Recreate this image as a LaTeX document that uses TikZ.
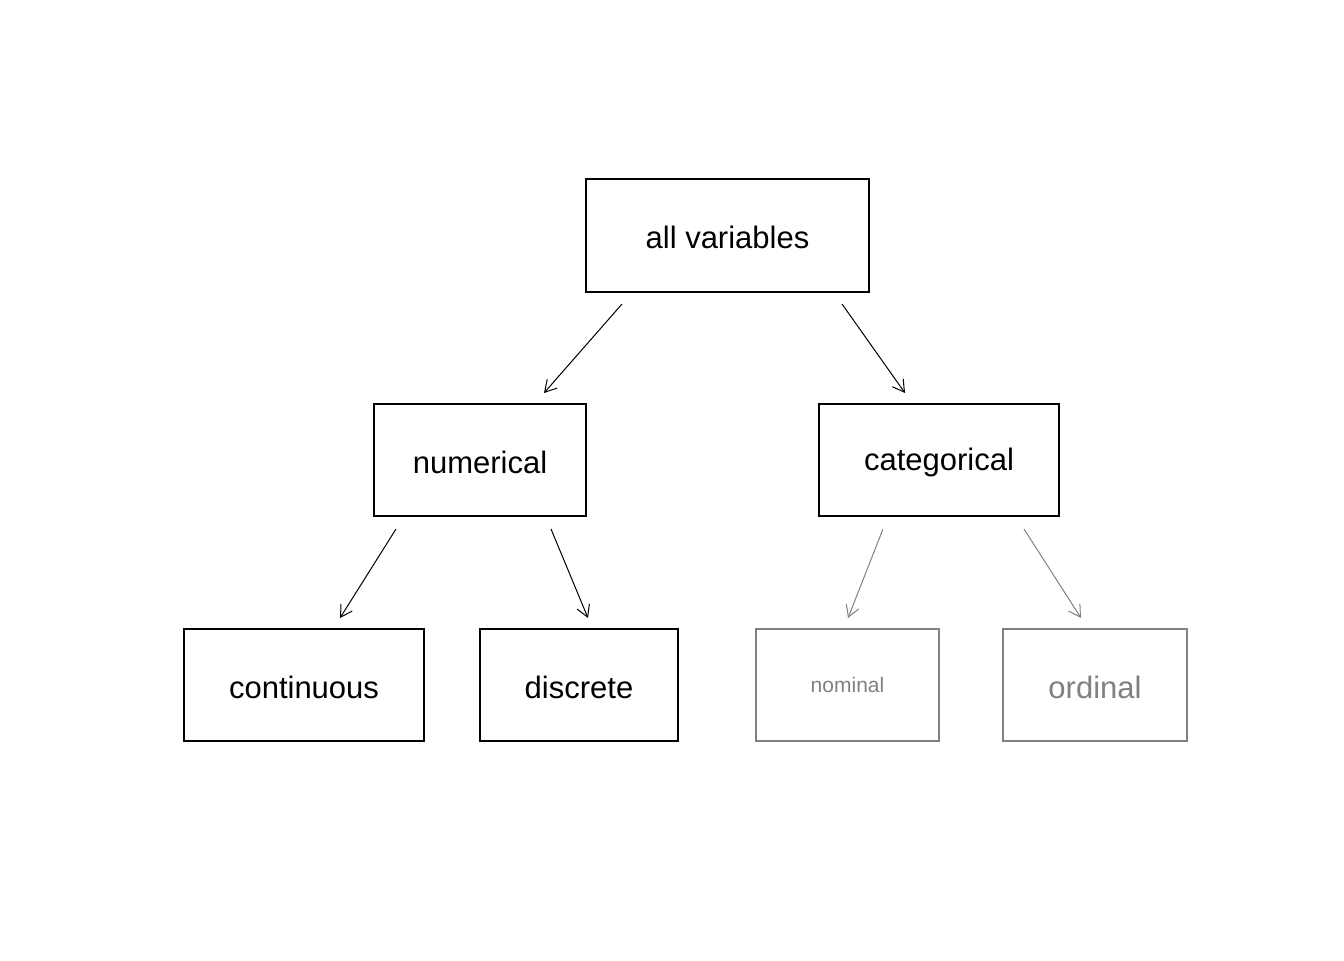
\documentclass[tikz,border=0pt]{standalone}
\usepackage{fontspec}
\setmainfont{Liberation Sans}
\usetikzlibrary{arrows.meta}
\newcommand{\lowtxt}[1]{\raisebox{-1.6pt}[\height][\depth]{#1}}
\begin{document}
\begin{tikzpicture}[x=0.75pt,y=-0.75pt,
  box/.style={draw, line width=1.5pt, inner sep=0pt, minimum height=84pt, font=\fontsize{23.25}{28}\selectfont},
  graybox/.style={box, draw=gray, text=gray},
  conn/.style={line width=0.75pt, -{Straight Barb[length=8.6pt,width=10pt]}},
  grayconn/.style={conn, draw=gray}]
\useasboundingbox (0,0) rectangle (1344,960);
\node[box, minimum width=212.25pt, minimum height=84.75pt] (all) at (727.5,235.5) {\lowtxt{all variables}};
\node[box, minimum width=159pt] (num) at (480,460) {\lowtxt{numerical}};
\node[box, minimum width=180pt] (cat) at (939,460) {\lowtxt{categorical}};
\node[box, minimum width=180pt] (cont) at (304,685) {\lowtxt{continuous}};
\node[box, minimum width=148.5pt] (disc) at (579,685) {\lowtxt{discrete}};
\node[graybox, minimum width=137.25pt, font=\fontsize{15.75}{19}\selectfont] (nom) at (847.5,685) {nominal};
\node[graybox, minimum width=138pt] (ord) at (1095,685) {\lowtxt{ordinal}};
\coordinate (a1) at (622,304); \coordinate (b1) at (544,393);
\coordinate (a2) at (842,304); \coordinate (b2) at (905,393);
\coordinate (a3) at (396,529); \coordinate (b3) at (340,618);
\coordinate (a4) at (551,529); \coordinate (b4) at (588,618);
\coordinate (a5) at (883,529); \coordinate (b5) at (848,618);
\coordinate (a6) at (1024,529); \coordinate (b6) at (1081,618);
\draw[conn] (a1) -- (b1);
\draw[conn] (a2) -- (b2);
\draw[conn] (a3) -- (b3);
\draw[conn] (a4) -- (b4);
\draw[grayconn] (a5) -- (b5);
\draw[grayconn] (a6) -- (b6);
\end{tikzpicture}
\end{document}
